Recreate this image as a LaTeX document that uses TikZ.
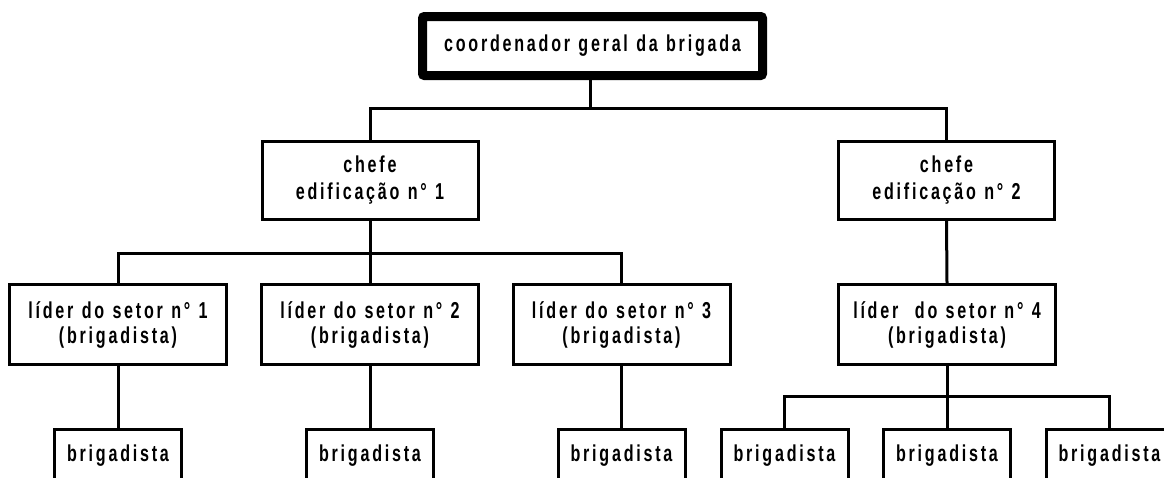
\documentclass[tikz,border=0pt]{standalone}
\usepackage{fontspec}
\newfontfamily\orgfont[FakeStretch=0.7,LetterSpace=12,WordSpace=1.15]{Liberation Sans}
\tikzset{
  orgbox/.style={
    draw,
    line width=3pt,
    fill=white,
    align=center,
    inner sep=0pt,
    font=\orgfont\bfseries\fontsize{23}{25}\selectfont
  },
  headbox/.style={
    orgbox,
    line width=9pt,
    rounded corners=2pt,
    minimum width=340pt,
    minimum height=59pt
  },
  chefebox/.style={
    orgbox,
    minimum width=216pt,
    minimum height=78pt,
    font=\orgfont\bfseries\fontsize{23}{27}\selectfont
  },
  liderbox/.style={orgbox, minimum width=217pt, minimum height=80pt},
  crewbox/.style={orgbox, minimum width=127pt, minimum height=53pt},
  link/.style={draw, line width=3pt}
}
\begin{document}
\begin{tikzpicture}[x=1pt, y=-1pt]
  \useasboundingbox[fill=white] (0,0) rectangle (1164,477);
  \clip (0,0) rectangle (1164,477);

  % top of the chart
  \node[headbox] (coord) at (592.5,46) {coordenador geral da brigada};

  % buildings
  \node[chefebox] (chefeA) at (370,180.5) {chefe\\edificação n° 1};
  \node[chefebox] (chefeB) at (946.5,180.5) {chefe\\edificação n° 2};

  % sector leaders
  \node[liderbox] (liderA) at (118,324.5) {líder do setor n° 1\\(brigadista)};
  \node[liderbox] (liderB) at (370,324.5) {líder do setor n° 2\\(brigadista)};
  \node[liderbox] (liderC) at (621.5,324.5) {líder do setor n° 3\\(brigadista)};
  \node[liderbox] (liderD) at (947,324.5) {líder\ \ do setor n° 4\\(brigadista)};

  % brigadistas
  \foreach \name/\x in {crewA/118, crewB/370, crewC/621.5, crewD/784.5, crewE/947, crewF/1109.5}
    \node[crewbox] (\name) at (\x,455.5) {brigadista};

  % junctions
  \coordinate (busTop) at (590,108);
  \coordinate (busA) at (370,253);
  \coordinate (busD) at (947,396);

  \path[link] (coord.south -| busTop) -- (busTop) -| (chefeA.north);
  \path[link] (busTop) -| (chefeB.north);
  \path[link] (chefeA.south) -- (busA) -| (liderA.north);
  \path[link] (busA) -- (liderB.north);
  \path[link] (busA) -| (liderC.north);
  \path[link] (chefeB.south) -- (liderD.north);
  \path[link] (liderA.south) -- (crewA.north);
  \path[link] (liderB.south) -- (crewB.north);
  \path[link] (liderC.south) -- (crewC.north);
  \path[link] (liderD.south) -- (busD) -| (crewD.north);
  \path[link] (busD) -- (crewE.north);
  \path[link] (busD) -| (crewF.north);
\end{tikzpicture}
\end{document}
